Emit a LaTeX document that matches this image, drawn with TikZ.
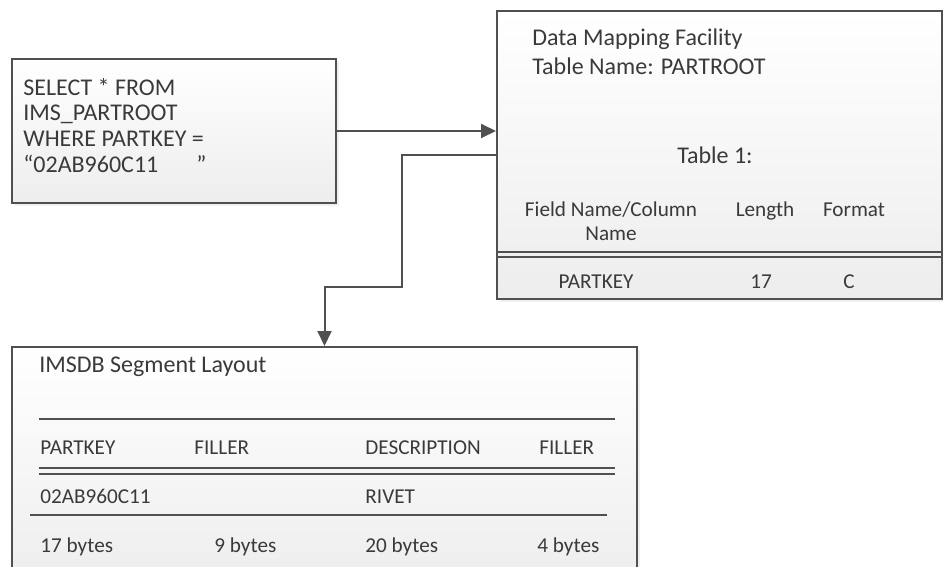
\documentclass[tikz,border=0pt]{standalone}
\usepackage{fontspec}
\setmainfont{Carlito}
\usetikzlibrary{arrows.meta}
\usetikzlibrary{shadows}
\definecolor{boxgray}{HTML}{505050}
\definecolor{textgray}{HTML}{3A3A3A}
\tikzset{>={Triangle[length=7.5pt,width=7pt]}}
\tikzset{panel/.style = {draw=boxgray,line width=1pt,top color=white,bottom color=black!7,inner sep=0pt,
    drop shadow={shadow xshift=1.5pt,shadow yshift=-1.5pt,opacity=0.12}}}
\tikzset{txt/.style = {text=textgray,inner sep=0pt,anchor=base west,font=\fontsize{12}{14}\selectfont}}
\tikzset{cell/.style = {txt,font=\fontsize{10.6}{12}\selectfont}}
\tikzset{ccell/.style = {cell,anchor=base}}
\tikzset{hline/.style = {draw=boxgray,line width=1pt}}
\tikzset{edge/.style = {->,draw=boxgray,line width=1pt}}

\begin{document}
\begin{tikzpicture}[x=0.5pt,y=-0.5pt]
            \useasboundingbox (0,0) rectangle (943,567);

            \node[panel,minimum width=162pt,minimum height=72pt] (query) at (174,131) {};
            \node[panel,minimum width=222.5pt,minimum height=144pt] (mapping) at (719.5,155) {};
            \node[panel,minimum width=312.5pt,minimum height=121.5pt] (layout) at (324.5,468.5) {};

            \node[txt] (q1) at (23,96) {SELECT * FROM};
            \node[txt] (q2) at (23,121) {IMS\_PARTROOT};
            \node[txt] (q3) at (23,147) {WHERE PARTKEY =};
            \node[txt] (q4) at (23,172) {“02AB960C11\hspace{19pt}”};

            \node[txt] (m1) at (532,46) {Data Mapping Facility};
            \node[txt] (m2) at (532,75) {Table Name: PARTROOT};
            \node[txt,anchor=base] (tab) at (715,163) {Table 1:};
            \node[ccell] (fld) at (611,216) {Field Name/Column};
            \node[ccell] (fld2) at (611,241) {Name};
            \node[ccell] (len) at (765,216) {Length};
            \node[ccell] (fmt) at (854,216) {Format};
            \node[ccell] (key) at (596,288) {PARTKEY};
            \node[ccell] (keylen) at (761,288) {17};
            \node[ccell] (keyfmt) at (849,288) {C};
            \draw[hline] (497,252) -- (942,252);
            \draw[hline] (497,257) -- (942,257);

            \node[txt] (seg) at (39,372) {IMSDB Segment Layout};
            \draw[hline] (39,419) -- (615,419);
            \node[cell] (h1) at (40,454) {PARTKEY};
            \node[cell] (h2) at (194,454) {FILLER};
            \node[cell] (h3) at (365,454) {DESCRIPTION};
            \node[cell] (h4) at (539,454) {FILLER};
            \draw[hline] (39,468) -- (615,468);
            \draw[hline] (39,474) -- (615,474);
            \node[cell] (r1) at (40,503) {02AB960C11};
            \node[cell] (r3) at (365,503) {RIVET};
            \draw[hline] (30,515) -- (607,515);
            \node[cell] (b1) at (40,552) {17 bytes};
            \node[cell] (b2) at (214,552) {9 bytes};
            \node[cell] (b3) at (365,552) {20 bytes};
            \node[cell] (b4) at (537,552) {4 bytes};

            \coordinate (bend) at (402,287);
            \draw[edge] (query.east) -- (query.east -| mapping.west);
            \draw[edge] (mapping.west) -| (bend) -| (layout.north);
\end{tikzpicture}
\end{document}
